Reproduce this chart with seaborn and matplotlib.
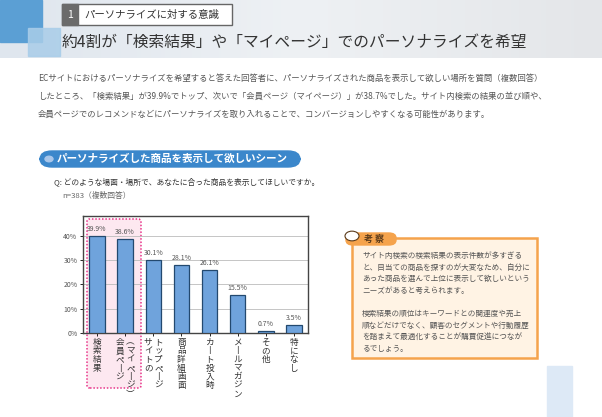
import numpy as np
import pandas as pd
import matplotlib.pyplot as plt
import matplotlib.patches as mpatches
import matplotlib.transforms as mtrans
import seaborn as sns

plt.rcParams['font.family'] = 'Noto Sans CJK JP'

# ---- data ----
CATEGORIES = ['検索結果', '会員ページ(マイページ)', 'サイトのトップページ', '商品詳細画面',
              'カート投入時', 'メールマガジン', 'その他', '特になし']
# columns of each vertical label (left to right)
LABEL_COLUMNS = [['検索結果'], ['会員ページ', '（マイページ）'], ['サイトの', 'トップページ'],
                 ['商品詳細画面'], ['カート投入時'], ['メールマガジン'], ['その他'], ['特になし']]
VALUES = [39.9, 38.6, 30.1, 28.1, 26.1, 15.5, 0.7, 3.5]
Y_TICKS = [0, 10, 20, 30, 40]

TITLE = '約4割が「検索結果」や「マイページ」でのパーソナライズを希望'
SECTION = 'パーソナライズに対する意識'
PARAGRAPH = ['ECサイトにおけるパーソナライズを希望すると答えた回答者に、パーソナライズされた商品を表示して欲しい場所を質問（複数回答）',
             'したところ、「検索結果」が39.9%でトップ、次いで「会員ページ（マイページ）」が38.7%でした。サイト内検索の結果の並び順や、',
             '会員ページでのレコメンドなどにパーソナライズを取り入れることで、コンバージョンしやすくなる可能性があります。']
MEMO = ['サイト内検索の検索結果の表示件数が多すぎる',
        'と、目当ての商品を探すのが大変なため、自分に',
        'あった商品を選んで上位に表示して欲しいという',
        'ニーズがあると考えられます。',
        '',
        '検索結果の順位はキーワードとの関連度や売上',
        '順などだけでなく、顧客のセグメントや行動履歴',
        'を踏まえて最適化することが購買促進につなが',
        'るでしょう。']

W, H = 602, 417
fig = plt.figure(figsize=(W / 100, H / 100), dpi=100)


def px(x, y):
    return x / W, 1 - y / H


def rect(x0, y0, x1, y1, **kw):
    fig.patches.append(mpatches.Rectangle(px(x0, y1), (x1 - x0) / W, (y1 - y0) / H,
                                          transform=fig.transFigure, **kw))


# header band
grad = np.linspace(0, 1, 256).reshape(1, -1)
hax = fig.add_axes([0, 1 - 58 / H, 1, 58 / H])
hax.imshow(grad, aspect='auto', cmap=sns.blend_palette(['#dfe6ee', '#eef1f4', '#e4e6e9'], as_cmap=True))
hax.axis('off')
rect(0, 0, 42, 42, color='#5b9fd4', zorder=3)
rect(28, 28, 60, 56, color='#a9cde9', alpha=0.85, zorder=4)
rect(62, 4, 232, 25, facecolor='white', edgecolor='#666666', lw=1, zorder=3)
rect(62, 4, 78, 25, color='#6b6b6b', zorder=4)
fig.text(*px(70, 15), '1', color='white', fontsize=7.5, ha='center', va='center', zorder=5)
fig.text(*px(84, 15), SECTION, color='#333333', fontsize=7.5, va='center', zorder=5)
fig.text(*px(62, 42), TITLE, color='#333333', fontsize=11.3, va='center', zorder=5)

for i, line in enumerate(PARAGRAPH):
    fig.text(*px(38, 78 + i * 18), line, color='#555555', fontsize=6.0, va='center')

# section pill
fig.patches.append(mpatches.FancyBboxPatch(px(40, 167), 260 / W, 16 / H,
                                           boxstyle='round,pad=0,rounding_size=0.02',
                                           transform=fig.transFigure, color='#3b87cb'))
fig.patches.append(mpatches.Circle(px(49, 159), 4 / W, transform=fig.transFigure, color='#a8c6ea'))
fig.text(*px(57, 159), 'パーソナライズした商品を表示して欲しいシーン', color='white',
         fontsize=7.6, fontweight='bold', va='center')
fig.text(*px(54, 182), 'Q: どのような場面・場所で、あなたに合った商品を表示してほしいですか。',
         color='#333333', fontsize=5.6, va='center')
fig.text(*px(62, 196), 'n=383（複数回答）', color='#666666', fontsize=5.6, va='center')

# pink highlight
fig.patches.append(mpatches.FancyBboxPatch(px(87, 388), 54 / W, 169 / H,
                                           boxstyle='round,pad=0,rounding_size=0.005',
                                           transform=fig.transFigure, facecolor='#fde8f0',
                                           edgecolor='#e8368a', lw=1.1, ls=(0, (1, 1.2)), zorder=0))

# chart
ax = fig.add_axes([83 / W, 1 - 333 / H, (308 - 83) / W, (333 - 216) / H])
ax.set_zorder(2)
ax.patch.set_alpha(0)
df = pd.DataFrame({'cat': CATEGORIES, 'val': VALUES})
sns.barplot(data=df, x='cat', y='val', ax=ax, color='#6fa3dc', edgecolor='#23496f',
            linewidth=0.9, width=0.55, saturation=1, zorder=3)
ax.set_ylim(0, 48.2)
ax.set_xlim(-0.5, len(VALUES) - 0.5)
ax.set_yticks(Y_TICKS)
ax.set_yticklabels([f'{t}%' for t in Y_TICKS], fontsize=5, color='#555555')
ax.yaxis.grid(True, color='#bbbbbb', lw=0.6, zorder=0)
ax.set_axisbelow(True)
ax.set_xlabel('')
ax.set_ylabel('')
ax.set_xticks(range(len(VALUES)))
ax.set_xticklabels([])
ax.tick_params(length=2, width=0.6, pad=2)
for s in ax.spines.values():
    s.set_color('#444444')
    s.set_linewidth(1.0)
for i, v in enumerate(VALUES):
    ax.text(i, v + 1.2, f'{v}%', ha='center', va='bottom', fontsize=5, color='#555555')

vmap = str.maketrans({'ー': '丨', '（': '︵', '）': '︶'})
xt = ax.get_xaxis_transform()
for i, cols in enumerate(LABEL_COLUMNS):
    n = len(cols)
    for j, col in enumerate(cols):
        off = (j - (n - 1) / 2) * 7.5
        tr = xt + mtrans.ScaledTranslation(off / 72, 0, fig.dpi_scale_trans)
        ax.text(i, -0.04, '\n'.join(col.translate(vmap)), transform=tr, ha='center', va='top',
                fontsize=6.2, color='#333333', linespacing=0.95)

# memo box
rect(352, 238, 537, 358, facecolor='#fff3e4', edgecolor='#f5a34c', lw=1.8, zorder=2)
fig.patches.append(mpatches.FancyBboxPatch(px(346, 245), 50 / W, 12 / H,
                                           boxstyle='round,pad=0,rounding_size=0.012',
                                           transform=fig.transFigure, color='#f5a34c', zorder=3))
fig.patches.append(mpatches.Circle(px(352, 236), 7 / W, transform=fig.transFigure,
                                   facecolor='white', edgecolor='#5a3a1a', lw=0.8, zorder=4))
fig.text(*px(364, 239), '考 察', color='#5a3a1a', fontsize=6.5, fontweight='bold', va='center', zorder=4)
for i, line in enumerate(MEMO):
    fig.text(*px(362, 256 + i * 11.6), line, color='#555555', fontsize=5.5, va='center', zorder=4)

rect(547, 366, 572, 417, color='#dde9f6', zorder=1)

fig.savefig('out.png', dpi=100)
